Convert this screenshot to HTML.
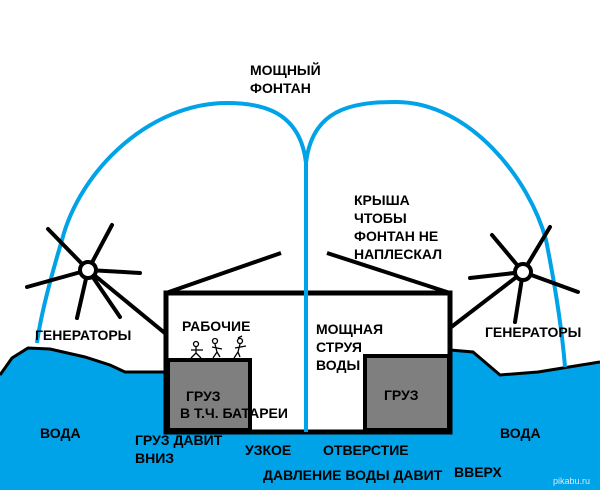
<!DOCTYPE html>
<html><head><meta charset="utf-8"><style>
html,body{margin:0;padding:0;background:#fff;}
svg{display:block}
text{font-family:"Liberation Sans",Arial,sans-serif;font-weight:bold;font-size:14px;fill:#000}
</style></head><body>
<svg width="600" height="490" viewBox="0 0 600 490" xmlns="http://www.w3.org/2000/svg">
<rect width="600" height="490" fill="#fff"/>
<path d="M0,375 L12,358 L28,348 L50,349 L85,357 L110,365 L125,372 L166,372 L166,432 L450,432 L450,350 L473,352 L500,375 L538,372 L600,362 L600,490 L0,490 Z" fill="#00a2e8"/>
<path d="M0,375 L12,358 L28,348 L50,349 L85,357 L110,365 L125,372 L166,372" fill="none" stroke="#000" stroke-width="3"/>
<path d="M450,350 L473,352 L500,375 L538,372 L600,362" fill="none" stroke="#000" stroke-width="3"/>
<rect x="166" y="293" width="284" height="139" fill="#fff"/>
<rect x="168" y="360" width="82" height="70" fill="#7f7f7f" stroke="#000" stroke-width="4"/>
<rect x="365" y="356" width="84" height="74" fill="#7f7f7f" stroke="#000" stroke-width="4"/>
<rect x="166" y="293" width="284" height="139" fill="none" stroke="#000" stroke-width="5"/>
<path d="M166,293 L281,253 M327,253 L450,293" stroke="#000" stroke-width="4"/>
<path d="M306,432 L306,163 C300,110 260,103 227,103 C150,103 80,170 62,240 C50,280 40,320 37,343" fill="none" stroke="#00a2e8" stroke-width="4"/>
<path d="M306,163 C312,110 350,102 396,102 C470,102 530,180 546,240 C556,290 562,330 565,367" fill="none" stroke="#00a2e8" stroke-width="4"/>
<g stroke="#000" stroke-width="4" stroke-linecap="round">
<path d="M88,270 L48,229 M88,270 L112,225 M88,270 L140,273 M88,270 L27,287 M88,270 L77,318 M88,270 L120,317 M88,270 L166,334"/>
<circle cx="88" cy="270" r="8" fill="#fff"/>
<path d="M523,272 L492,235 M523,272 L550,227 M523,272 L470,278 M523,272 L578,292 M523,272 L515,322 M523,272 L450,328"/>
<circle cx="523" cy="272" r="8" fill="#fff"/>
</g>
<g stroke="#000" stroke-width="1.3" fill="none">
<circle cx="196" cy="344" r="2.5"/><path d="M196,347 L196,353 L191,358 M196,353 L201,358 M191,350 L203,350"/>
<circle cx="215" cy="341" r="2.5"/><path d="M215,344 L217,352 L213,358 M217,352 L220,357 M212,347 L222,349"/>
<circle cx="240" cy="341" r="2.5"/><path d="M240,344 L238,352 L234,358 M238,352 L240,357 M235,348 L246,346 M238,338 L242,336"/>
</g>
<text x="250" y="75">МОЩНЫЙ</text>
<text x="250" y="93">ФОНТАН</text>
<text x="354" y="205">КРЫША</text>
<text x="354" y="223">ЧТОБЫ</text>
<text x="354" y="241">ФОНТАН НЕ</text>
<text x="354" y="259">НАПЛЕСКАЛ</text>
<text x="35" y="340">ГЕНЕРАТОРЫ</text>
<text x="485" y="337">ГЕНЕРАТОРЫ</text>
<text x="182" y="331">РАБОЧИЕ</text>
<text x="316" y="334">МОЩНАЯ</text>
<text x="316" y="352">СТРУЯ</text>
<text x="316" y="370">ВОДЫ</text>
<text x="186" y="401">ГРУЗ</text>
<text x="180" y="418">В Т.Ч. БАТАРЕИ</text>
<text x="384" y="400">ГРУЗ</text>
<text x="40" y="438">ВОДА</text>
<text x="500" y="438">ВОДА</text>
<text x="135" y="445">ГРУЗ ДАВИТ</text>
<text x="135" y="463">ВНИЗ</text>
<text x="245" y="455">УЗКОЕ</text>
<text x="323" y="455">ОТВЕРСТИЕ</text>
<text x="263" y="480">ДАВЛЕНИЕ ВОДЫ ДАВИТ</text>
<text x="454" y="477">ВВЕРХ</text>
<text x="553" y="484" style="font-size:9px;font-weight:normal;fill:#e0e8f0">pikabu.ru</text>
</svg>
</body></html>
